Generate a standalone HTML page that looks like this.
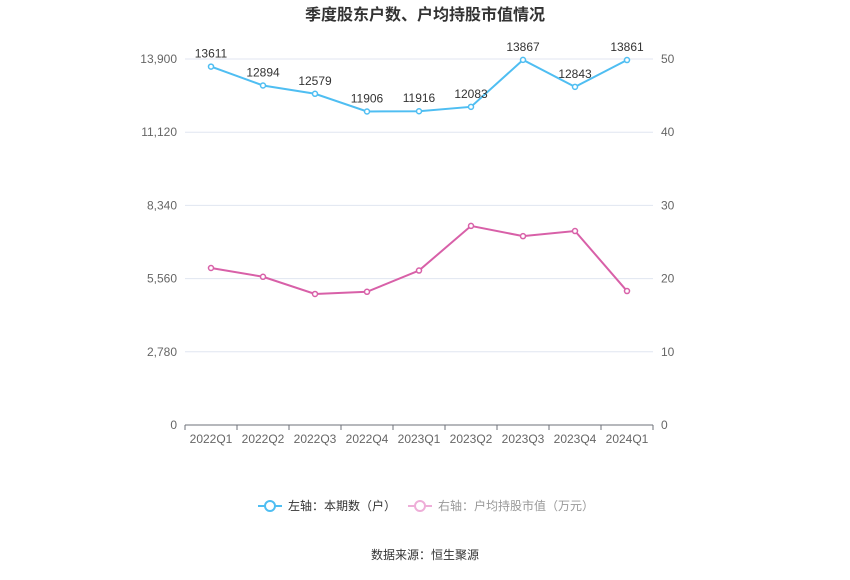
<!DOCTYPE html>
<html><head><meta charset="utf-8"><style>
body{margin:0;background:#fff;font-family:"Liberation Sans","Noto Sans CJK SC",sans-serif;}
svg text{font-family:"Liberation Sans","Noto Sans CJK SC",sans-serif;}
</style></head><body>
<svg id="c" width="850" height="575" xmlns="http://www.w3.org/2000/svg">
<text x="425" y="20" text-anchor="middle" font-size="16" font-weight="bold" fill="#333">季度股东户数、户均持股市值情况</text>
<g id="grid"></g><g id="axes"></g><g id="series"></g>
<g>
<g>
<line x1="258" y1="506" x2="282" y2="506" stroke="#4fbef2" stroke-width="2"/>
<circle cx="270" cy="506" r="5" fill="#fff" stroke="#4fbef2" stroke-width="2"/>
<text x="288" y="510" font-size="12" fill="#333">左轴：本期数（户）</text></g>
<g>
<line x1="408" y1="506" x2="432" y2="506" stroke="#eeaed8" stroke-width="2"/>
<circle cx="420" cy="506" r="5" fill="#fff" stroke="#eeaed8" stroke-width="2"/>
<text x="438" y="510" font-size="12" fill="#999">右轴：户均持股市值（万元）</text></g>
</g>
<text x="425" y="559" text-anchor="middle" font-size="12" fill="#333">数据来源：恒生聚源</text>
</svg>
<script>
const categories=["2022Q1","2022Q2","2022Q3","2022Q4","2023Q1","2023Q2","2023Q3","2023Q4","2024Q1"];
const holders=[13611,12894,12579,11906,11916,12083,13867,12843,13861];
const marketValue=[21.45,20.25,17.9,18.2,21.1,27.2,25.8,26.5,18.3];
const leftTicks=[0,2780,5560,8340,11120,13900];
const rightTicks=[0,10,20,30,40,50];
const NS="http://www.w3.org/2000/svg";
const x0=185,x1=653,yTop=59,yBot=425;
const bw=(x1-x0)/categories.length;
const xs=i=>x0+bw*(i+0.5);
const yL=v=>yBot-v/13900*(yBot-yTop);
const yR=v=>yBot-v/50*(yBot-yTop);
function mk(t,a,p){const e=document.createElementNS(NS,t);for(const k in a)e.setAttribute(k,a[k]);p.appendChild(e);return e;}
const grid=document.getElementById('grid'),axes=document.getElementById('axes'),ser=document.getElementById('series');
leftTicks.forEach((v,i)=>{
 const y=yL(v);
 if(i>0){const g=mk('line',{x1:x0,x2:x1,y1:y,y2:y,stroke:'#e0e6f1'},grid);
 
 }
 const t=mk('text',{x:x0-8,y:y+4,'text-anchor':'end','font-size':12,fill:'#666'},axes);t.textContent=v.toLocaleString('en-US');
 
 
});
rightTicks.forEach(v=>{
 const t=mk('text',{x:x1+8,y:yR(v)+4,'font-size':12,fill:'#666'},axes);t.textContent=v;
 
 
});
const ax=mk('line',{x1:x0,x2:x1,y1:yBot,y2:yBot,stroke:'#6e7079'},axes);


categories.forEach((c,i)=>{
 const tk=mk('line',{x1:x0+bw*i,x2:x0+bw*i,y1:yBot,y2:yBot+5,stroke:'#6e7079'},axes);
 
 
 const t=mk('text',{x:xs(i),y:yBot+18,'text-anchor':'middle','font-size':12,fill:'#666'},axes);t.textContent=c;
 
 
});
const tk2=mk('line',{x1:x1,x2:x1,y1:yBot,y2:yBot+5,stroke:'#6e7079'},axes);


function line(data,yf,color,name,labels){
 const p=mk('polyline',{points:data.map((v,i)=>xs(i)+','+yf(v)).join(' '),fill:'none',stroke:color,'stroke-width':2},ser);
 
 
 data.forEach((v,i)=>{
  const c=mk('circle',{cx:xs(i),cy:yf(v),r:2.5,fill:'#fff',stroke:color,'stroke-width':1.5},ser);
  
  
  if(labels){const t=mk('text',{x:xs(i),y:yf(v)-9,'text-anchor':'middle','font-size':12,fill:'#333'},ser);t.textContent=v;
  
  }
 });
}
line(holders,yL,'#4fbef2','holders',true);
line(marketValue,yR,'#d860a8','market-value',false);
</script>
</body></html>
